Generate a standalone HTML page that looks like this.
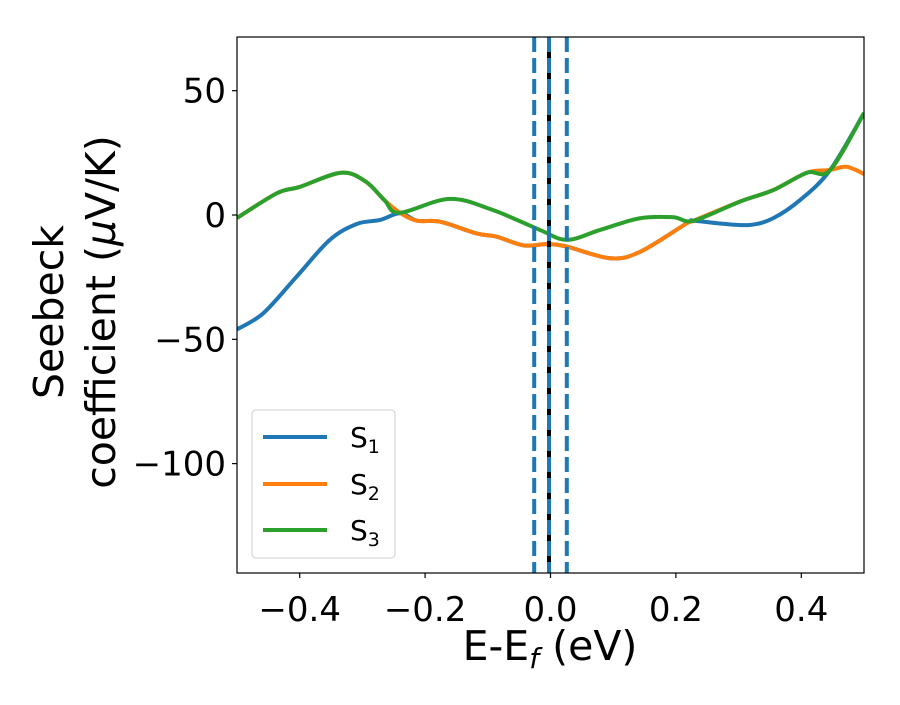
<!DOCTYPE html>
<html><head><meta charset="utf-8"><style>
body{margin:0;background:#fff}
svg text{font-family:"DejaVu Sans","Liberation Sans",sans-serif;fill:#000}
</style></head><body>
<svg id="chart" width="900" height="700">
<g id="plot"></g>
<g id="axes"></g>
</svg>
<script>
const xTicks=[-0.4,-0.2,0.0,0.2,0.4];
const xTickLabels=["\u22120.4","\u22120.2","0.0","0.2","0.4"];
const yTicks=[50,0,-50,-100];
const yTickLabels=["50","0","\u221250","\u2212100"];
const s1X=[-0.5,-0.458,-0.405,-0.352,-0.309,-0.272,-0.24,-0.213,-0.176,-0.118,-0.086,-0.043,-0.005,0.026,0.095,0.143,0.217,0.228,0.27,0.318,0.355,0.398,0.446,0.5];
const s1Y=[-46,-39.5,-24.8,-10,-3.6,-2,0.7,-2.3,-2.7,-7.4,-8.7,-12.2,-11.7,-12.7,-17.4,-14.8,-3.4,-2.3,-3.4,-4,-1.3,6,18.1,41];
const s2X=[-0.5,-0.436,-0.4,-0.334,-0.295,-0.265,-0.24,-0.213,-0.176,-0.118,-0.086,-0.043,-0.005,0.026,0.095,0.143,0.217,0.228,0.302,0.355,0.409,0.446,0.472,0.5];
const s2Y=[-1.2,8.8,11.3,17,13.5,6,0.9,-2.3,-2.7,-7.4,-8.7,-12.2,-11.7,-12.7,-17.4,-14.8,-3.4,-2.3,5.4,10,17,18.1,19.4,16.5];
const s3X=[-0.5,-0.436,-0.4,-0.334,-0.295,-0.265,-0.241,-0.161,-0.092,-0.017,0.026,0.079,0.143,0.196,0.228,0.302,0.355,0.409,0.446,0.5];
const s3Y=[-1.2,8.8,11.3,17,13.5,6,0.9,6.5,2,-6,-10,-6,-1.3,-0.9,-2.3,5.4,10,17,18.1,41];
const vLines=[-0.026,0.026];
const seriesNames=["S1","S2","S3"];
const colors=["#1f77b4","#ff7f0e","#2ca02c"];
const L=237,R=864,T=37,B=573,xMin=-0.5,xMax=0.5,yMin=-144,yMax=71.6;
const sx=v=>L+(v-xMin)/(xMax-xMin)*(R-L);
const sy=v=>B-(v-yMin)/(yMax-yMin)*(B-T);
const NS="http://www.w3.org/2000/svg";
function mk(tag,attrs,parent){const e=document.createElementNS(NS,tag);for(const k in attrs)e.setAttribute(k,attrs[k]);parent.appendChild(e);return e;}
function smooth(xs,ys){const p=xs.map((x,i)=>[sx(x),sy(ys[i])]);let d="M"+p[0][0]+","+p[0][1];
for(let i=0;i<p.length-1;i++){const p0=p[i-1]||p[i],p1=p[i],p2=p[i+1],p3=p[i+2]||p2;
d+=" C"+(p1[0]+(p2[0]-p0[0])/6)+","+(p1[1]+(p2[1]-p0[1])/6)+" "+(p2[0]-(p3[0]-p1[0])/6)+","+(p2[1]-(p3[1]-p1[1])/6)+" "+p2[0]+","+p2[1];}return d;}
const plot=document.getElementById('plot'),axes=document.getElementById('axes');
const cp=mk('clipPath',{id:'clip'},plot);mk('rect',{x:L,y:T,width:R-L,height:B-T},cp);
const g=mk('g',{'clip-path':'url(#clip)'},plot);
const data=[[s1X,s1Y],[s2X,s2Y],[s3X,s3Y]];
data.forEach((s,i)=>{const p=mk('path',{d:smooth(s[0],s[1]),fill:'none',stroke:colors[i],'stroke-width':4,'stroke-linejoin':'round'},g);

});
const fl=mk('line',{x1:sx(0)-1.5,x2:sx(0)-1.5,y1:T,y2:B,stroke:'#000','stroke-width':4},g);


const fl2=mk('line',{x1:sx(0)-1.5,x2:sx(0)-1.5,y1:T,y2:B,stroke:'#1f77b4','stroke-width':4,'stroke-dasharray':'15,6'},g);


vLines.forEach(v=>{const l=mk('line',{x1:sx(v),x2:sx(v),y1:T,y2:B,stroke:'#1f77b4','stroke-width':4,'stroke-dasharray':'15,6'},g);

});
const fr=mk('rect',{x:L,y:T,width:R-L,height:B-T,fill:'none',stroke:'#000','stroke-width':1.2},axes);


xTicks.forEach((v,i)=>{mk('line',{x1:sx(v),x2:sx(v),y1:B,y2:B+5,stroke:'#000','stroke-width':1.2},axes);
const t=mk('text',{x:sx(v),y:B+48,'text-anchor':'middle','font-size':34},axes);t.textContent=xTickLabels[i];

});
yTicks.forEach((v,i)=>{mk('line',{x1:L-5,x2:L,y1:sy(v),y2:sy(v),stroke:'#000','stroke-width':1.2},axes);
const t=mk('text',{x:L-11,y:sy(v)+12,'text-anchor':'end','font-size':34},axes);t.textContent=yTickLabels[i];

});
</script>
<svg style="position:absolute;left:0;top:0" width="900" height="700">
<text x="550" y="660" text-anchor="middle" font-size="41">E-E<tspan font-size="28" font-style="italic" dy="8">f</tspan><tspan dy="-8"> (eV)</tspan></text>
<g transform="translate(63,312) rotate(-90)">
<text x="0" y="0" text-anchor="middle" font-size="41">Seebeck</text>
<text x="0" y="52" text-anchor="middle" font-size="41">coefficient  (<tspan font-style="italic">μ</tspan>V/K)</text>
</g>
<g>
<rect x="252" y="410" width="143" height="148" rx="4" fill="#fff" fill-opacity="0.8" stroke="#ccc" stroke-width="1"/>
<g><line x1="263" x2="327" y1="437" y2="437" stroke="#1f77b4" stroke-width="4"/><text x="350" y="447" font-size="28">S<tspan font-size="19" dy="6">1</tspan></text></g>
<g><line x1="263" x2="327" y1="484" y2="484" stroke="#ff7f0e" stroke-width="4"/><text x="350" y="494" font-size="28">S<tspan font-size="19" dy="6">2</tspan></text></g>
<g><line x1="263" x2="327" y1="530" y2="530" stroke="#2ca02c" stroke-width="4"/><text x="350" y="540" font-size="28">S<tspan font-size="19" dy="6">3</tspan></text></g>
</g>
</svg>
</body></html>
